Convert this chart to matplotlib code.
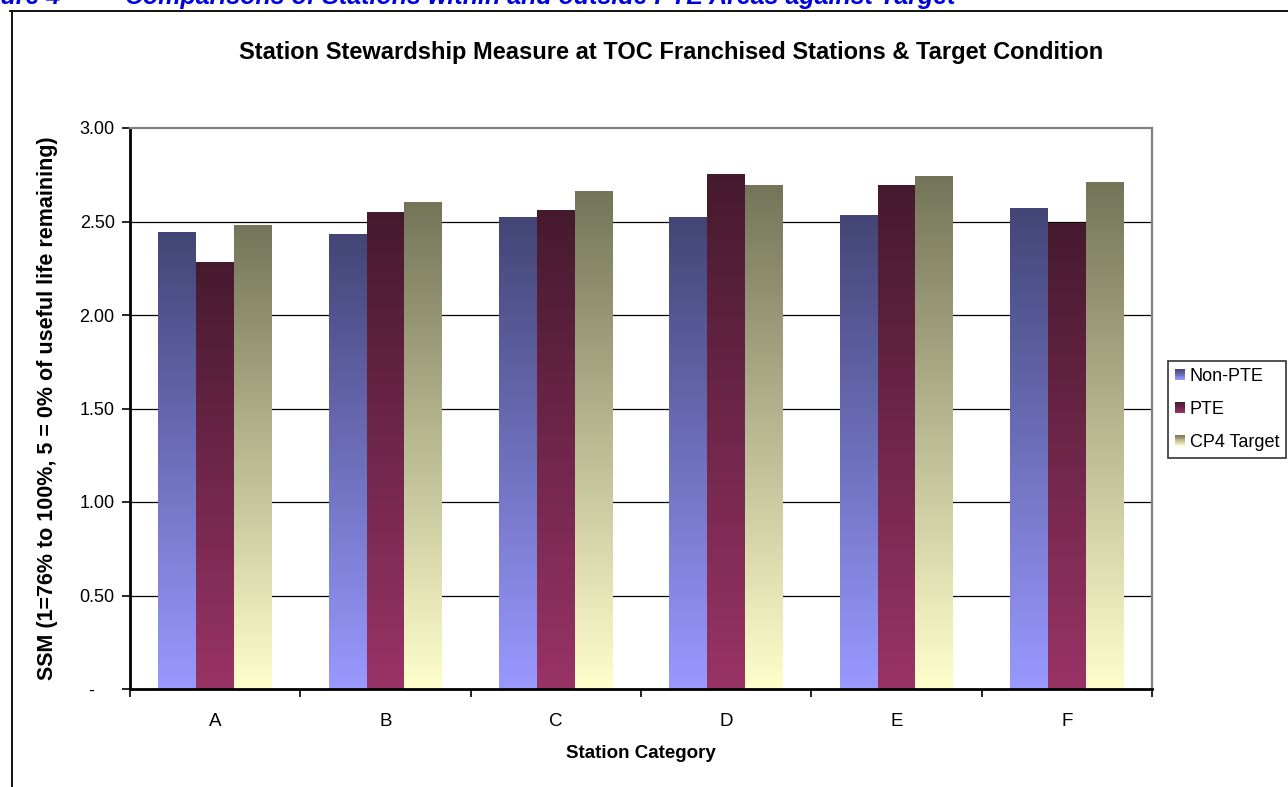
import numpy as np
import matplotlib.pyplot as plt
from matplotlib.colors import LinearSegmentedColormap, to_rgb
from matplotlib.patches import Rectangle
from matplotlib.legend_handler import HandlerBase
from matplotlib.lines import Line2D

plt.rcParams['font.family'] = ['Liberation Sans', 'DejaVu Sans']

categories = ['A', 'B', 'C', 'D', 'E', 'F']
non_pte = [2.44, 2.43, 2.52, 2.52, 2.53, 2.57]
pte = [2.28, 2.55, 2.56, 2.75, 2.69, 2.49]
cp4_target = [2.48, 2.60, 2.66, 2.69, 2.74, 2.71]
series_names = ['Non-PTE', 'PTE', 'CP4 Target']
y_ticks = [0, 0.5, 1.0, 1.5, 2.0, 2.5, 3.0]
# accounting-style zero: dash padded on the right
y_tick_labels = ['-    ', '0.50', '1.00', '1.50', '2.00', '2.50', '3.00']

# (top, bottom) colour of each bar's vertical gradient
shades = [('#434576', '#9999FF'), ('#461A2E', '#993366'), ('#747459', '#FFFFCC')]


class GradientHandler(HandlerBase):
    """Legend key drawn as a small square with the same vertical gradient."""
    def __init__(self, top, bottom):
        super().__init__()
        self.top = np.array(to_rgb(top))
        self.bottom = np.array(to_rgb(bottom))

    def create_artists(self, legend, orig_handle, xdescent, ydescent,
                       width, height, fontsize, trans):
        n = 12
        arts = []
        for i in range(n):
            f = (i + 0.5) / n
            c = self.bottom + (self.top - self.bottom) * f
            arts.append(Rectangle((-xdescent, -ydescent + height * i / n),
                                  width, height / n * 1.05, facecolor=c,
                                  edgecolor='none', transform=trans))
        return arts


W, H = 1288, 787
fig = plt.figure(figsize=(W / 100, H / 100), dpi=100)
ax = fig.add_axes([130 / W, 1 - 689 / H, 1022 / W, 561 / H])

x = np.arange(len(categories))
bw = 1 / 4.5
grad = np.linspace(0, 1, 256).reshape(-1, 1)

for k, vals in enumerate([non_pte, pte, cp4_target]):
    top, bottom = shades[k]
    cmap = LinearSegmentedColormap.from_list('g%d' % k, [bottom, top])
    xs = x + (k - 1) * bw
    for xc, v in zip(xs, vals):
        ax.imshow(grad, cmap=cmap, origin='lower', aspect='auto',
                  extent=(xc - bw / 2, xc + bw / 2, 0, v), zorder=2,
                  interpolation='bilinear')

ax.set_xlim(-0.5, len(categories) - 0.5)
ax.set_ylim(0, 3.0)

for yv in y_ticks[1:-1]:
    ax.axhline(yv, color='#000000', lw=0.9, zorder=1)

ax.set_yticks(y_ticks)
ax.set_yticklabels(y_tick_labels, fontsize=13)
ax.tick_params(axis='y', direction='out', length=6, width=1.2, pad=5,
               color='black')

ax.set_xticks(x)
ax.set_xticklabels(categories, fontsize=13.5)
ax.set_xticks(np.arange(-0.5, len(categories)), minor=True)
ax.tick_params(axis='x', which='major', length=0, pad=17)
ax.tick_params(axis='x', which='minor', direction='out', length=6, width=1.2)

for side in ['left', 'bottom']:
    ax.spines[side].set_color('black')
    ax.spines[side].set_linewidth(2)
for side in ['top', 'right']:
    ax.spines[side].set_color('#808080')
    ax.spines[side].set_linewidth(1.6)

ax.set_xlabel('Station Category', fontsize=13.5, fontweight='bold')
ax.xaxis.label.set_va('center')
ax.xaxis.set_label_coords(0.5, (689 - 753) / 561)
ax.set_ylabel('SSM (1=76% to 100%, 5 = 0% of useful life remaining)',
              fontsize=15.5, fontweight='bold')
ax.yaxis.label.set_va('center')
ax.yaxis.set_label_coords((48 - 130) / 1022, 0.5)

fig.text(671 / W, 1 - 52 / H,
         'Station Stewardship Measure at TOC Franchised Stations & Target Condition',
         ha='center', va='center', fontsize=17, fontweight='bold')

# figure caption sitting above the chart frame
cap_y = 1 - 4 / H
fig.text(60 / W, cap_y, 'Figure 4', color='#0000DD', fontsize=18,
         fontweight='bold', fontstyle='italic', va='baseline', ha='right')
fig.text(125 / W, cap_y,
         'Comparisons of Stations within and outside PTE Areas against Target',
         color='#0000DD', fontsize=18, fontweight='bold', fontstyle='italic',
         va='baseline')

# chart area frame
fig.add_artist(Line2D([10 / W, 1], [1 - 10.5 / H, 1 - 10.5 / H],
                      transform=fig.transFigure, color='black', lw=1.3))
fig.add_artist(Line2D([11.5 / W, 11.5 / W], [0, 1 - 10.5 / H],
                      transform=fig.transFigure, color='black', lw=1.3))

handles = [Rectangle((0, 0), 1, 1) for _ in series_names]
leg = fig.legend(handles, series_names, loc='lower left',
                 bbox_to_anchor=(1168 / W, 1 - 458 / H),
                 handler_map={h: GradientHandler(*s) for h, s in zip(handles, shades)},
                 fontsize=13, frameon=True, fancybox=False, borderaxespad=0,
                 handlelength=0.55, handleheight=0.55, handletextpad=0.25,
                 labelspacing=0.88, borderpad=0.4)
leg.get_frame().set_edgecolor('black')
leg.get_frame().set_linewidth(1.2)

fig.savefig('out.png', dpi=100)
